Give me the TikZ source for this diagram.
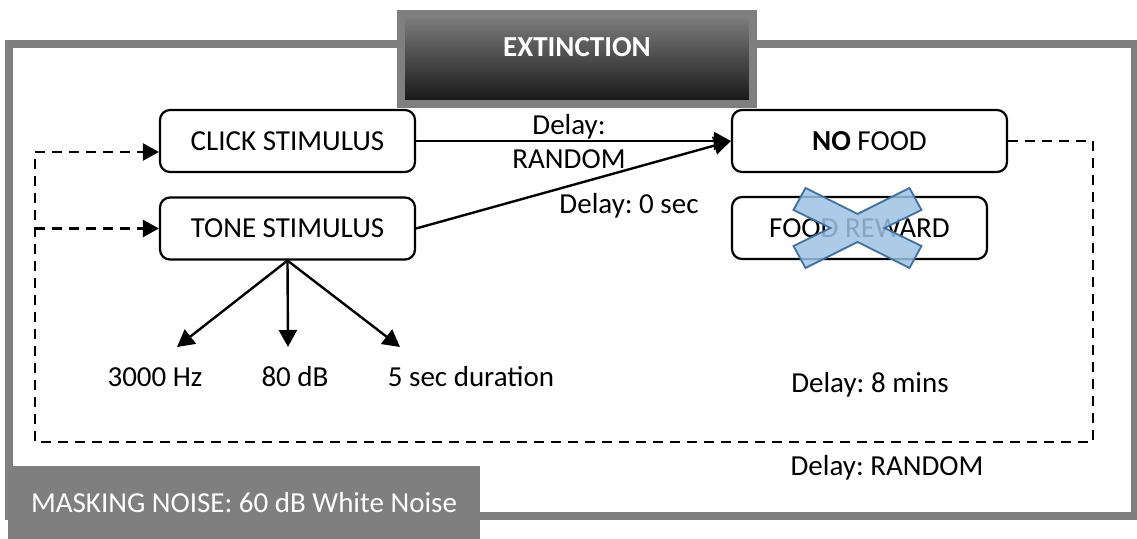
\documentclass[tikz,border=0pt]{standalone}
\usepackage{fontspec}
\setmainfont{Carlito}
\usetikzlibrary{arrows.meta}
\frenchspacing
\definecolor{framegray}{HTML}{7F7F7F}
\definecolor{crossfill}{HTML}{9DC3E6}
\definecolor{crossline}{HTML}{41719C}
\tikzstyle{every node}=[font=\fontsize{14.5pt}{17pt}\selectfont]
\tikzstyle{stimbox}=[rectangle,draw=black,line width=1.1pt,rounded corners=5pt,fill=white,minimum width=127.5pt,minimum height=31pt,inner sep=0pt]
\tikzstyle{extbox}=[rectangle,draw=framegray,line width=4pt,top color=black!50,middle color=black!60,bottom color=black!92,minimum width=176pt,minimum height=45pt]
\tikzstyle{maskbox}=[rectangle,fill=framegray,text=white,minimum width=236pt,minimum height=36.5pt,inner sep=0pt]
\tikzstyle{arrowline}=[line width=1.2pt,-{Triangle[length=8.5pt,width=9pt]}]
\tikzstyle{dashline}=[line width=1.2pt,dash pattern=on 5pt off 3.5pt,-{Triangle[length=8pt,width=8.5pt]}]

\begin{document}
\begin{tikzpicture}[x=0.5pt,y=-0.5pt]
    \useasboundingbox (0,0) rectangle (1137,539);
    \draw[framegray,line width=4pt] (9,44) rectangle (1134.5,516.5);
    \node[extbox] (ext) at (577,59) {};
    \node[text=white,font=\fontsize{14.5pt}{17pt}\selectfont\bfseries] (extlabel) at (577,47) {EXTINCTION};
    \node[maskbox] (mask) at (244,502.5) {MASKING NOISE: 60 dB White Noise};

    \node[stimbox] (click) at (287.5,141) {CLICK STIMULUS};
    \node[stimbox] (tone) at (287.5,228.5) {TONE STIMULUS};
    \node[stimbox,minimum width=137.5pt] (nofood) at (869.5,141) {\textbf{NO} FOOD};
    \node[stimbox] (reward) at (859.5,228) {FOOD REWARD};

    \draw[crossline,fill=crossfill,fill opacity=0.85,line width=0.9pt,shift={(857.5,228)}]
        (-52,-40) -- (0,-14) -- (52,-40) -- (64,-18) -- (27,0) -- (64,18) -- (52,40)
        -- (0,14) -- (-52,40) -- (-64,18) -- (-27,0) -- (-64,-18) -- cycle;

    \node[align=center] (delayrand) at (569,142) {Delay:\\RANDOM};
    \node (delayzero) at (629,206) {Delay: 0 sec};
    \node (delaymins) at (870,385) {Delay: 8 mins};
    \node (delayloop) at (887,468) {Delay: RANDOM};

    \node (hz) at (155,377) {3000 Hz};
    \node (db) at (295,377) {80 dB};
    \node (dur) at (471,377) {5 sec duration};
    \coordinate (hztip) at (177,347);
    \coordinate (dbtip) at (288,347);
    \coordinate (durtip) at (400,347);

    \foreach \from/\to in {click/nofood,tone/nofood}
    \draw[arrowline] (\from.east) -- (\to.west);
    \foreach \tip in {hztip,dbtip,durtip}
    \draw[arrowline] (tone.south) -- (\tip);

    \coordinate (loopr) at (1093,442);
    \coordinate (loopl) at (35,442);
    \draw[dashline] (nofood.east) -| (loopr) -- (loopl) |- ([yshift=-5.5pt]click.west);
    \draw[dashline] (loopl |- tone.west) -- (tone.west);
\end{tikzpicture}
\end{document}
